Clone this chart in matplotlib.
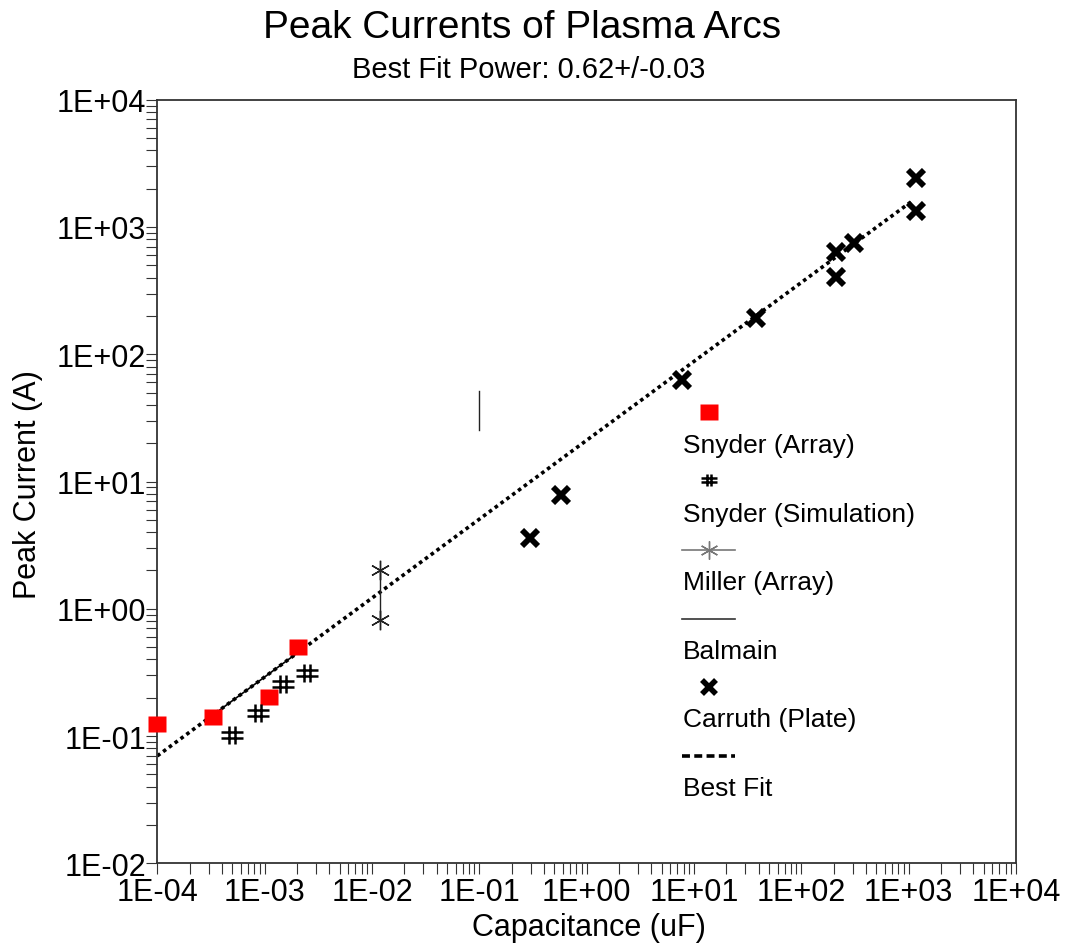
import numpy as np
import matplotlib.pyplot as plt
from matplotlib.path import Path
from matplotlib.ticker import FixedLocator, FuncFormatter, NullFormatter

plt.rcParams['font.family'] = ['Liberation Sans', 'DejaVu Sans']

# Snyder (Array)
snyder_arr_c = [1.0e-4, 3.3e-4, 1.1e-3, 2.05e-3]
snyder_arr_i = [0.125, 0.14, 0.204, 0.50]

# Snyder (Simulation)
snyder_sim_c = [4.95e-4, 8.7e-4, 1.48e-3, 2.47e-3]
snyder_sim_i = [0.102, 0.151, 0.255, 0.311]

# Miller (Array): one capacitance, two currents
miller_c = [0.0119, 0.0119]
miller_i = [2.02, 0.82]

# Balmain: range of currents at one capacitance
balmain_c = [0.1, 0.1]
balmain_i = [25.4, 51.3]

# Carruth (Plate)
carruth_c = [0.295, 0.573, 7.65, 38.1, 210, 210, 311, 1167, 1167]
carruth_i = [3.6, 7.83, 62.5, 191, 631, 402, 743, 2432, 1331]

# best fit I = A * C^p
fit_power = 0.62
fit_power_err = 0.03
fit_log_a = 1.324
fit_range = [1e-4, 1.1e3]
fit_seg_range = [3.3e-4, 2.05e-3]

x_decades = np.arange(-4, 5)
y_decades = np.arange(-2, 5)

legend_labels = ['Snyder (Array)', 'Snyder (Simulation)', 'Miller (Array)',
                 'Balmain', 'Carruth (Plate)', 'Best Fit']

# custom markers
rect_marker = Path([(-1.2, -1), (1.2, -1), (1.2, 1), (-1.2, 1), (-1.2, -1)],
                   [Path.MOVETO, Path.LINETO, Path.LINETO, Path.LINETO, Path.CLOSEPOLY])
hash_marker = Path(
    [(-1, 0.22), (1, 0.22), (-1, -0.22), (1, -0.22),
     (-0.28, 0.75), (-0.28, -0.75), (0.28, 0.75), (0.28, -0.75)],
    [Path.MOVETO, Path.LINETO] * 4)

fig = plt.figure(figsize=(10.65, 9.45), dpi=100)
ax = fig.add_axes([0.1477, 0.0854, 0.8063, 0.808])
ax.set_xscale('log')
ax.set_yscale('log')
ax.set_xlim(1e-4, 1e4)
ax.set_ylim(1e-2, 1e4)

sq_style = dict(ls='none', marker=rect_marker, ms=13, mfc='#ff0000', mec='none')
hash_style = dict(ls='none', marker=hash_marker, ms=16.5, mfc='none', mec='black', mew=1.8)
star_style = dict(marker=(6, 2, 0), ms=14, mec='#222222', mew=1.0)
x_style = dict(ls='none', marker='x', ms=11.5, mec='black', mew=4.2)
fit_style = dict(color='black', lw=2.6, ls=(0, (1, 1)), dash_capstyle='butt')

# best fit line
fx = np.array(fit_range)
fy = 10 ** (fit_log_a + fit_power * np.log10(fx))
ax.plot(fx, fy, **fit_style, zorder=2)
sx = np.array(fit_seg_range)
sy = 10 ** (fit_log_a + fit_power * np.log10(sx))
ax.plot(sx, sy, color='black', lw=1.2, zorder=2)

ax.plot(snyder_arr_c, snyder_arr_i, **sq_style, clip_on=False, zorder=4)
ax.plot(snyder_sim_c, snyder_sim_i, **hash_style, zorder=4)
ax.plot(miller_c, miller_i, color='#222222', lw=1.0, ls='-', **star_style, zorder=4)
ax.plot(balmain_c, balmain_i, color='#222222', lw=1.0, zorder=4)
ax.plot(carruth_c, carruth_i, **x_style, zorder=4)

# legend: handle above each label
lx0, lx1 = 0.611, 0.673
lxc = (lx0 + lx1) / 2
handle_y = [0.591, 0.502, 0.410, 0.320, 0.231, 0.1405]
label_y = [0.548, 0.457, 0.368, 0.278, 0.189, 0.0986]
tr = ax.transAxes
ax.plot([lxc], [handle_y[0]], transform=tr, **sq_style)
ax.plot([lxc], [handle_y[1]], transform=tr, ls='none', marker=hash_marker, ms=12,
        mfc='none', mec='black', mew=1.8)
ax.plot([lx0, lxc, lx1], [handle_y[2]] * 3, transform=tr, color='#777777', lw=1.2,
        marker=(6, 2, 0), ms=13, mec='#777777', mew=1.0, markevery=[1])
ax.plot([lx0, lx1], [handle_y[3]] * 2, transform=tr, color='#333333', lw=1.2)
ax.plot([lxc], [handle_y[4]], transform=tr, ls='none', marker='x', ms=10,
        mec='black', mew=4.0)
ax.plot([lx0, lx1], [handle_y[5]] * 2, transform=tr, color='black', lw=2.6,
        ls=(0, (2.2, 1.2)))
for lab, yy in zip(legend_labels, label_y):
    ax.text(0.612, yy, lab, transform=tr, fontsize=19, ha='left', va='center')

# axes, ticks
for sp in ax.spines.values():
    sp.set_color('#333333')
    sp.set_linewidth(1.3)

fmt = FuncFormatter(lambda v, pos: f"1E{int(round(np.log10(v))):+03d}")
for axis, decs in ((ax.xaxis, x_decades), (ax.yaxis, y_decades)):
    minors = [m * 10.0 ** d for d in decs[:-1] for m in range(2, 10)]
    axis.set_major_locator(FixedLocator(10.0 ** decs))
    axis.set_minor_locator(FixedLocator(minors))
    axis.set_major_formatter(fmt)
    axis.set_minor_formatter(NullFormatter())
ax.tick_params(which='both', direction='out', length=8, width=0.8, color='#333333')
ax.tick_params(axis='x', which='major', labelsize=22, pad=2)
ax.tick_params(axis='y', which='major', labelsize=22, pad=0)
ax.tick_params(top=False, right=False)

fig.text(0.490, 0.970, 'Peak Currents of Plasma Arcs', fontsize=28, ha='center', va='center')
fig.text(0.496, 0.926, f'Best Fit Power: {fit_power:.2f}+/-{fit_power_err:.2f}',
         fontsize=21, ha='center', va='center')
fig.text(0.553, 0.018, 'Capacitance (uF)', fontsize=22, ha='center', va='center')
fig.text(0.026, 0.487, 'Peak Current (A)', fontsize=22, ha='center', va='center',
         rotation=90)

fig.savefig('out.png', dpi=100)
